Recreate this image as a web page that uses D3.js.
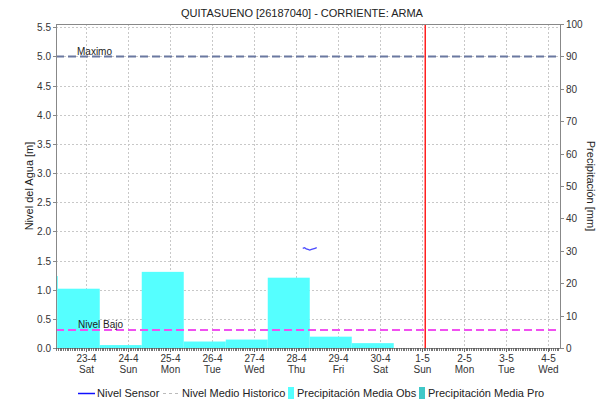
<!DOCTYPE html>
<html><head><meta charset="utf-8">
<script src="https://cdn.jsdelivr.net/npm/d3@7"></script>
<style>body{margin:0;background:#fff}svg{display:block}text{font-family:"Liberation Sans",Arial,sans-serif}</style>
</head><body><svg id="c" width="600" height="404"></svg>
<script>
// ---- data ----
const title = "QUITASUENO [26187040] - CORRIENTE: ARMA";
const precipDays = ["2022-04-21","2022-04-22","2022-04-23","2022-04-24","2022-04-25","2022-04-26","2022-04-27","2022-04-28","2022-04-29"];
const precipObs = [22.2, 18.3, 0.9, 23.5, 2.0, 2.6, 21.7, 3.5, 1.5];
const sensorTimes = ["2022-04-28T04:00","2022-04-28T05:00","2022-04-28T06:00","2022-04-28T07:00","2022-04-28T08:00","2022-04-28T09:00","2022-04-28T10:00","2022-04-28T11:00","2022-04-28T12:00"];
const sensorLevel = [1.71, 1.72, 1.70, 1.69, 1.68, 1.69, 1.70, 1.71, 1.72];
const tickDays = ["2022-04-23","2022-04-24","2022-04-25","2022-04-26","2022-04-27","2022-04-28","2022-04-29","2022-04-30","2022-05-01","2022-05-02","2022-05-03","2022-05-04"];
const tickDayNames = ["Sat","Sun","Mon","Tue","Wed","Thu","Fri","Sat","Sun","Mon","Tue","Wed"];
const levelTicks = [0,0.5,1,1.5,2,2.5,3,3.5,4,4.5,5,5.5];
const precipTicks = [0,10,20,30,40,50,60,70,80,90,100];
const nivelMaximo = 5.0, nivelBajo = 0.31;
const nowTime = "2022-05-01T02:00";
const legendItems = ["Nivel Sensor","Nivel Medio Historico","Precipitación Media Obs","Precipitación Media Pro"];

const P = s => new Date(s.length===10 ? s+"T00:00:00Z" : s+":00Z");
const svg = d3.select("#c");
const L=56, R=560, T=24, B=348;
const x = d3.scaleUtc().domain([P("2022-04-22T07:00"), P("2022-05-04T07:00")]).range([L,R]);
const yL = d3.scaleLinear().domain([0, 100*5/90]).range([B,T]);
const yR = d3.scaleLinear().domain([0,100]).range([B,T]);

svg.append("defs").append("clipPath").attr("id","clip").append("rect").attr("x",L).attr("y",T).attr("width",R-L).attr("height",B-T);

// grid
const g = svg.append("g");
g.selectAll(".gy").data(levelTicks).join("line").attr("x1",L).attr("x2",R).attr("y1",d=>Math.round(yL(d))+0.5).attr("y2",d=>Math.round(yL(d))+0.5).attr("stroke","#c8c8c8").attr("stroke-dasharray","2,2");
g.selectAll(".gx").data(tickDays).join("line").attr("y1",T).attr("y2",B).attr("x1",d=>Math.round(x(P(d)))+0.5).attr("x2",d=>Math.round(x(P(d)))+0.5).attr("stroke","#c8c8c8").attr("stroke-dasharray","2,2");

// bars
const cl = svg.append("g").attr("clip-path","url(#clip)");
cl.selectAll("rect.bar").data(precipDays).join("rect")
  .attr("x",d=>x(d3.utcHour.offset(P(d),8)))
  .attr("width",d=>x(d3.utcHour.offset(P(d),32))-x(d3.utcHour.offset(P(d),8)))
  .attr("y",(d,i)=>yR(precipObs[i]))
  .attr("height",(d,i)=>B-yR(precipObs[i]))
  .attr("fill","#55ffff");

// reference lines
cl.append("line").attr("x1",L).attr("x2",R).attr("y1",yL(nivelMaximo)).attr("y2",yL(nivelMaximo)).attr("stroke","#6a78a0").attr("stroke-width",2).attr("stroke-dasharray","8,4");
cl.append("line").attr("x1",L).attr("x2",R).attr("y1",yL(nivelBajo)).attr("y2",yL(nivelBajo)).attr("stroke","#f050f0").attr("stroke-width",2).attr("stroke-dasharray","8,4");
svg.append("text").attr("x",77).attr("y",yL(nivelMaximo)-1.5).attr("font-size",10).attr("fill","#222").text("Maximo");
svg.append("text").attr("x",78).attr("y",yL(nivelBajo)-1.5).attr("font-size",10).attr("fill","#222").text("Nivel Bajo");

// now line
const nx = x(P(nowTime));
svg.append("line").attr("x1",nx).attr("x2",nx).attr("y1",T).attr("y2",B).attr("stroke","#ff2020").attr("stroke-width",1.5);

// sensor line
cl.append("path").datum(sensorTimes).attr("fill","none").attr("stroke","#4a4aff").attr("stroke-width",1.3)
  .attr("d",d3.line().x(d=>x(P(d))).y((d,i)=>yL(sensorLevel[i])));

// frame
svg.append("rect").attr("x",L+0.5).attr("y",T+0.5).attr("width",R-L).attr("height",B-T).attr("fill","none").attr("stroke","#888");

// axes
const ax = svg.append("g").attr("font-size",10).attr("fill","#333");
levelTicks.forEach(v=>{
  const yy=Math.round(yL(v))+0.5;
  ax.append("line").attr("x1",L-3).attr("x2",L).attr("y1",yy).attr("y2",yy).attr("stroke","#888");
  ax.append("text").attr("x",L-5).attr("y",yy+3.5).attr("text-anchor","end").text(d3.format(".1f")(v));
});
precipTicks.forEach(v=>{
  const yy=Math.round(yR(v))+0.5;
  ax.append("line").attr("x1",R).attr("x2",R+4).attr("y1",yy).attr("y2",yy).attr("stroke","#888");
  ax.append("text").attr("x",R+6).attr("y",yy+3.5).attr("text-anchor","start").text(v);
});
const hours = d3.utcHour.range(x.domain()[0], x.domain()[1]);
ax.selectAll(".mt").data(hours).join("line").attr("x1",d=>Math.round(x(d))+0.5).attr("x2",d=>Math.round(x(d))+0.5).attr("y1",B).attr("y2",B+3).attr("stroke","#555").attr("stroke-width",0.8);
tickDays.forEach((d,i)=>{
  const xx=Math.round(x(P(d)))+0.5;
  ax.append("line").attr("x1",xx).attr("x2",xx).attr("y1",B).attr("y2",B+4).attr("stroke","#666");
  const dt=P(d);
  ax.append("text").attr("x",xx).attr("y",362).attr("text-anchor","middle").text(dt.getUTCDate()+"-"+(dt.getUTCMonth()+1));
  ax.append("text").attr("x",xx).attr("y",373).attr("text-anchor","middle").text(tickDayNames[i]);
});

// titles
svg.append("text").attr("x",302).attr("y",17).attr("text-anchor","middle").attr("font-size",11).attr("fill","#222").text(title);
svg.append("text").attr("transform","translate(33,186) rotate(-90)").attr("text-anchor","middle").attr("font-size",11).attr("fill","#222").text("Nivel del Agua [m]");
svg.append("text").attr("transform","translate(587,186) rotate(90)").attr("text-anchor","middle").attr("font-size",11).attr("fill","#222").text("Precipitación [mm]");

// legend
const lg = svg.append("g").attr("font-size",11).attr("fill","#222");
lg.append("line").attr("x1",78).attr("x2",95).attr("y1",393.5).attr("y2",393.5).attr("stroke","#1010ff").attr("stroke-width",1.5);
lg.append("text").attr("x",97).attr("y",397).text(legendItems[0]);
lg.append("line").attr("x1",163).attr("x2",180).attr("y1",393.5).attr("y2",393.5).attr("stroke","#bbb").attr("stroke-width",1.2).attr("stroke-dasharray","3,3");
lg.append("text").attr("x",182).attr("y",397).text(legendItems[1]);
lg.append("rect").attr("x",288).attr("y",387).attr("width",6).attr("height",12).attr("fill","#55ffff");
lg.append("text").attr("x",297).attr("y",397).text(legendItems[2]);
lg.append("rect").attr("x",419).attr("y",387).attr("width",6).attr("height",12).attr("fill","#40c8c8");
lg.append("text").attr("x",428).attr("y",397).text(legendItems[3]);
</script></body></html>
